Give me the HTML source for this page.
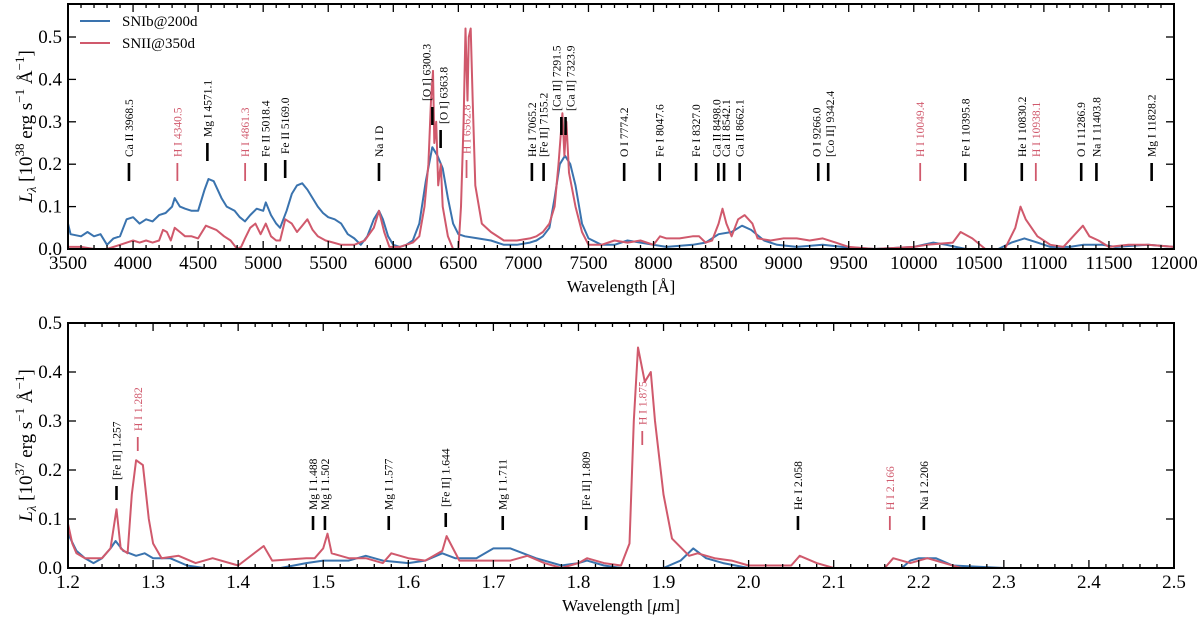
<!DOCTYPE html>
<html><head><meta charset="utf-8"><style>
body{margin:0;background:#fff}
svg{display:block;font-family:"Liberation Serif","DejaVu Serif",serif}
</style></head><body>
<svg id="chart" width="1200" height="625" viewBox="0 0 1200 625" xmlns="http://www.w3.org/2000/svg"></svg>
<script>
// ---- Optical panel data (wavelength Å, L in 1e38) ----
const optWaveB=[3500,3520,3600,3650,3700,3750,3800,3850,3900,3950,4000,4050,4100,4150,4200,4250,4300,4320,4360,4400,4450,4500,4550,4580,4620,4680,4720,4780,4820,4860,4900,4950,5000,5020,5060,5100,5130,5180,5220,5260,5300,5340,5380,5420,5460,5500,5550,5600,5650,5700,5750,5800,5850,5890,5920,5960,6000,6050,6100,6150,6200,6250,6300,6340,6380,6420,6460,6500,6550,6650,6750,6850,6950,7050,7100,7150,7200,7240,7280,7320,7360,7400,7450,7500,7600,7700,7800,7900,8000,8100,8300,8400,8500,8600,8680,8750,8850,8950,9100,9300,9450,9700,10000,10150,10250,10400,10650,10750,10850,10950,11050,11200,11300,11450,11550,11800,12000];
const optSNIb=[0.06,0.035,0.03,0.04,0.03,0.035,0.01,0.025,0.03,0.07,0.075,0.06,0.07,0.065,0.08,0.085,0.10,0.12,0.10,0.095,0.09,0.09,0.14,0.165,0.16,0.12,0.10,0.09,0.075,0.065,0.08,0.095,0.09,0.11,0.08,0.06,0.05,0.09,0.13,0.15,0.155,0.14,0.12,0.10,0.085,0.075,0.07,0.06,0.035,0.025,0.01,0.03,0.07,0.09,0.07,0.03,0.01,0.005,0.01,0.02,0.06,0.16,0.24,0.22,0.19,0.12,0.06,0.035,0.03,0.025,0.02,0.01,0.01,0.015,0.02,0.03,0.05,0.12,0.2,0.22,0.2,0.15,0.06,0.025,0.01,0.01,0.02,0.015,0.01,0.005,0.01,0.015,0.035,0.04,0.055,0.045,0.02,0.01,0.005,0.01,0.005,0.0,0.005,0.015,0.01,0.0,0.0,0.015,0.025,0.015,0.005,0.005,0.01,0.01,0.005,0.01,0.005];
const optWaveR=[3500,3600,3700,3800,3900,4000,4050,4100,4150,4200,4230,4260,4290,4320,4360,4400,4450,4500,4560,4600,4640,4700,4750,4800,4830,4860,4900,4940,4980,5020,5060,5100,5130,5170,5220,5260,5300,5340,5380,5420,5480,5540,5600,5700,5780,5850,5890,5930,5970,6050,6100,6150,6200,6240,6270,6290,6305,6315,6330,6345,6365,6380,6420,6460,6500,6520,6540,6555,6570,6580,6595,6610,6630,6680,6750,6850,6950,7050,7100,7150,7200,7240,7270,7300,7315,7330,7350,7400,7450,7500,7600,7700,7800,7900,8000,8050,8100,8200,8300,8350,8400,8450,8500,8530,8560,8600,8650,8700,8760,8800,8900,9000,9100,9200,9300,9400,9500,9700,10000,10100,10300,10360,10450,10550,10700,10780,10820,10860,10950,11050,11150,11240,11300,11350,11420,11500,11650,11800,12000];
const optSNII=[0.005,0.005,0.0,0.0,0.01,0.02,0.015,0.02,0.015,0.02,0.045,0.04,0.02,0.05,0.04,0.03,0.03,0.025,0.055,0.05,0.045,0.03,0.02,0.0,0.005,0.025,0.05,0.06,0.035,0.06,0.03,0.02,0.02,0.07,0.06,0.04,0.055,0.07,0.045,0.03,0.02,0.015,0.01,0.01,0.02,0.05,0.09,0.04,0.005,0.005,0.01,0.015,0.03,0.1,0.2,0.35,0.42,0.25,0.3,0.15,0.2,0.1,0.03,0.0,0.0,0.1,0.3,0.52,0.35,0.5,0.52,0.35,0.15,0.06,0.04,0.02,0.02,0.025,0.03,0.04,0.06,0.1,0.2,0.32,0.22,0.3,0.18,0.1,0.04,0.01,0.01,0.02,0.015,0.02,0.01,0.03,0.025,0.025,0.03,0.03,0.015,0.02,0.06,0.095,0.06,0.03,0.07,0.08,0.06,0.025,0.02,0.025,0.025,0.02,0.025,0.015,0.005,0.0,0.005,0.01,0.015,0.04,0.025,0.0,0.0,0.05,0.1,0.07,0.03,0.01,0.005,0.035,0.055,0.03,0.02,0.005,0.01,0.01,0.005];
// ---- NIR panel data (µm, L in 1e37) ----
const nirWaveB=[1.2,1.21,1.22,1.23,1.24,1.25,1.256,1.265,1.28,1.29,1.3,1.32,1.34,1.36,1.45,1.48,1.5,1.53,1.55,1.57,1.6,1.62,1.64,1.655,1.68,1.7,1.72,1.75,1.78,1.8,1.81,1.83,1.85,1.9,1.92,1.935,1.95,1.97,2.0,2.1,2.18,2.19,2.2,2.22,2.24,2.3,2.5];
const nirSNIb=[0.07,0.035,0.02,0.01,0.02,0.04,0.055,0.035,0.025,0.03,0.02,0.02,0.005,0.0,0.0,0.01,0.015,0.015,0.025,0.015,0.01,0.015,0.03,0.02,0.02,0.04,0.04,0.02,0.005,0.01,0.015,0.005,0.0,0.0,0.015,0.04,0.02,0.01,0.0,0.0,0.0,0.015,0.02,0.02,0.005,0.0,0.0];
const nirWaveR=[1.2,1.205,1.21,1.22,1.24,1.25,1.257,1.262,1.27,1.275,1.28,1.288,1.295,1.3,1.31,1.33,1.35,1.37,1.4,1.43,1.44,1.48,1.49,1.5,1.505,1.51,1.53,1.55,1.57,1.58,1.6,1.62,1.64,1.645,1.66,1.7,1.72,1.74,1.76,1.78,1.8,1.81,1.83,1.85,1.86,1.865,1.87,1.878,1.885,1.89,1.9,1.91,1.93,1.94,1.96,1.98,2.0,2.05,2.06,2.08,2.1,2.16,2.17,2.19,2.21,2.23,2.25,2.5];
const nirSNII=[0.09,0.05,0.03,0.02,0.02,0.04,0.12,0.04,0.03,0.15,0.22,0.21,0.1,0.05,0.02,0.025,0.01,0.02,0.005,0.045,0.015,0.02,0.02,0.04,0.07,0.03,0.02,0.02,0.01,0.03,0.02,0.015,0.035,0.065,0.015,0.015,0.015,0.025,0.01,0.0,0.01,0.02,0.01,0.005,0.05,0.3,0.45,0.38,0.4,0.3,0.15,0.06,0.025,0.03,0.02,0.015,0.005,0.005,0.025,0.01,0.0,0.0,0.02,0.01,0.02,0.01,0.0,0.0];
// ---- line identifications ----
const optLineWave=[3968.5,4340.5,4571.1,4861.3,5018.4,5169.0,5890,6300.3,6363.8,6562.8,7065.2,7155.2,7291.5,7323.9,7774.2,8047.6,8327.0,8498.0,8542.1,8662.1,9266.0,9342.4,10049.4,10395.8,10830.2,10938.1,11286.9,11403.8,11828.2];
const optLineText=["Ca II 3968.5","H I 4340.5","Mg I 4571.1","H I 4861.3","Fe II 5018.4","Fe II 5169.0","Na I D","[O I] 6300.3","[O I] 6363.8","H I 6562.8","He I 7065.2","[Fe II] 7155.2","[Ca II] 7291.5","[Ca II] 7323.9","O I 7774.2","Fe I 8047.6","Fe I 8327.0","Ca II 8498.0","Ca II 8542.1","Ca II 8662.1","O I 9266.0","[Co II] 9342.4","H I 10049.4","Fe I 10395.8","He I 10830.2","H I 10938.1","O I 11286.9","Na I 11403.8","Mg I 11828.2"];
const optLineH=[0,1,0,1,0,0,0,0,0,1,0,0,0,0,0,0,0,0,0,0,0,0,1,0,0,1,0,0,0];
const optLineTop=[163,163,143,163,163,160,163,107,130,160,163,163,117,117,163,163,163,163,163,163,163,163,163,163,163,163,163,163,163];
const optLineDx=[0,0,0,0,0,0,0,-6,3,0,0,0,-5,5,0,0,0,-2,2,0,-2,2,0,0,0,0,0,0,0];
const nirLineWave=[1.257,1.282,1.488,1.502,1.577,1.644,1.711,1.809,1.875,2.058,2.166,2.206];
const nirLineText=["[Fe II] 1.257","H I 1.282","Mg I 1.488","Mg I 1.502","Mg I 1.577","[Fe II] 1.644","Mg I 1.711","[Fe II] 1.809","H I 1.875","He I 2.058","H I 2.166","Na I 2.206"];
const nirLineH=[0,1,0,0,0,0,0,0,1,0,1,0];
const nirLineTop=[486,437,516,516,516,513,516,516,431,516,516,516];
const nirLineDx=[0,0,0,0,0,0,0,0,0,0,0,0];

const NS="http://www.w3.org/2000/svg";
const svg=document.getElementById('chart');
const BLUE="#3a73ae",RED="#d0596c";
function mk(t,a,p){const e=document.createElementNS(NS,t);for(const k in a)e.setAttribute(k,a[k]);(p||svg).appendChild(e);return e;}

function panel(o){
  const g=mk('g',{});
  
  
  const X=v=>o.x0+(v-o.xmin)/(o.xmax-o.xmin)*(o.x1-o.x0);
  const Y=v=>o.yb-(v/0.1)*o.pp;
  [[o.wb,o.vb,BLUE,'snib-line'],[o.wr,o.vr,RED,'snii-line']].forEach(s=>{
    let d='';s[0].forEach((w,i)=>{d+=(i?'L':'M')+X(w).toFixed(1)+','+Y(s[1][i]).toFixed(1);});
    const p=mk('path',{d:d,fill:'none',stroke:s[2],'stroke-width':2,'stroke-linejoin':'round'},g);
    
    
  });
  o.lw.forEach((w,i)=>{
    const c=o.lh[i]?RED:'#000';const x=X(w);const t=o.lt[i];
    mk('line',{x1:x,x2:x,y1:t,y2:t+o.tl,stroke:c,'stroke-width':o.lh[i]?1.8:2.6},g);
    const tx=mk('text',{x:0,y:0,transform:`translate(${x+4+o.ldx[i]},${t-6}) rotate(-90)`,'font-size':11.5,fill:c},g);
    tx.textContent=o.ltx[i];
    
    
  });
  const fr=mk('rect',{x:o.x0,y:o.yt,width:o.x1-o.x0,height:o.yb-o.yt,fill:'none',stroke:'#000','stroke-width':2},g);
  
  
  for(let v=o.xmin,k=0;v<=o.xmax+1e-9;v=o.xmin+(++k)*o.xminor){
    const major=Math.abs(((v-o.xmin)/o.xmajor)-Math.round((v-o.xmin)/o.xmajor))<1e-6;const L=major?8:4;const x=X(v);
    mk('line',{x1:x,x2:x,y1:o.yb,y2:o.yb-L,stroke:'#000','stroke-width':1.3},g);
    mk('line',{x1:x,x2:x,y1:o.yt,y2:o.yt+L,stroke:'#000','stroke-width':1.3},g);
    if(major){const t=mk('text',{x:x,y:o.yb+20,'text-anchor':'middle','font-size':19},g);t.textContent=o.xfmt(v);
      
      }
  }
  for(let k=0;k<=o.ymaxTick;k++){
    const y=Y(k*0.1);
    [[o.x0,8],[o.x1,-8]].forEach(a=>mk('line',{x1:a[0],x2:a[0]+a[1],y1:y,y2:y,stroke:'#000','stroke-width':1.3},g));
    const t=mk('text',{x:o.x0-6,y:y+6,'text-anchor':'end','font-size':19},g);t.textContent=(k/10).toFixed(1);
    
    
  }
  const xl=mk('text',{x:(o.x0+o.x1)/2,y:o.yb+43,'text-anchor':'middle','font-size':17},g);
  xl.innerHTML=o.xlabel;
  
  
  const yl=mk('text',{x:0,y:0,transform:`translate(32,${(o.yt+o.yb)/2}) rotate(-90)`,'text-anchor':'middle','font-size':19},g);
  yl.innerHTML=o.ylabel;
  
  
}
panel({name:'optical-panel',x0:68,x1:1174,yt:4,yb:249,pp:42.4,xmin:3500,xmax:12000,xmajor:500,xminor:100,ymaxTick:5,
  wb:optWaveB,vb:optSNIb,wr:optWaveR,vr:optSNII,lw:optLineWave,lt:optLineTop,lh:optLineH,ltx:optLineText,ldx:optLineDx,tl:18,
  xfmt:v=>String(v),xlabel:'Wavelength [Å]',
  ylabel:'<tspan font-style="italic">L</tspan><tspan font-size="13" dy="4" font-style="italic">λ</tspan><tspan dy="-4"> [10</tspan><tspan font-size="13" dy="-8">38</tspan><tspan dy="8"> erg s</tspan><tspan font-size="13" dy="-8">−1</tspan><tspan dy="8"> Å</tspan><tspan font-size="13" dy="-8">−1</tspan><tspan dy="8">]</tspan>'});
panel({name:'nir-panel',x0:68,x1:1174,yt:323,yb:568,pp:49,xmin:1.2,xmax:2.5,xmajor:0.1,xminor:0.02,ymaxTick:5,
  wb:nirWaveB,vb:nirSNIb,wr:nirWaveR,vr:nirSNII,lw:nirLineWave,lt:nirLineTop,lh:nirLineH,ltx:nirLineText,ldx:nirLineDx,tl:14,
  xfmt:v=>v.toFixed(1),xlabel:'Wavelength [<tspan font-style="italic">μ</tspan>m]',
  ylabel:'<tspan font-style="italic">L</tspan><tspan font-size="13" dy="4" font-style="italic">λ</tspan><tspan dy="-4"> [10</tspan><tspan font-size="13" dy="-8">37</tspan><tspan dy="8"> erg s</tspan><tspan font-size="13" dy="-8">−1</tspan><tspan dy="8"> Å</tspan><tspan font-size="13" dy="-8">−1</tspan><tspan dy="8">]</tspan>'});
const lg=mk('g',{});


[[BLUE,'SNIb@200d',21],[RED,'SNII@350d',43]].forEach(e=>{
  mk('line',{x1:80,x2:110,y1:e[2],y2:e[2],stroke:e[0],'stroke-width':2},lg);
  const t=mk('text',{x:122,y:e[2]+5,'font-size':15},lg);t.textContent=e[1];
  
  
});
</script>
</body></html>
